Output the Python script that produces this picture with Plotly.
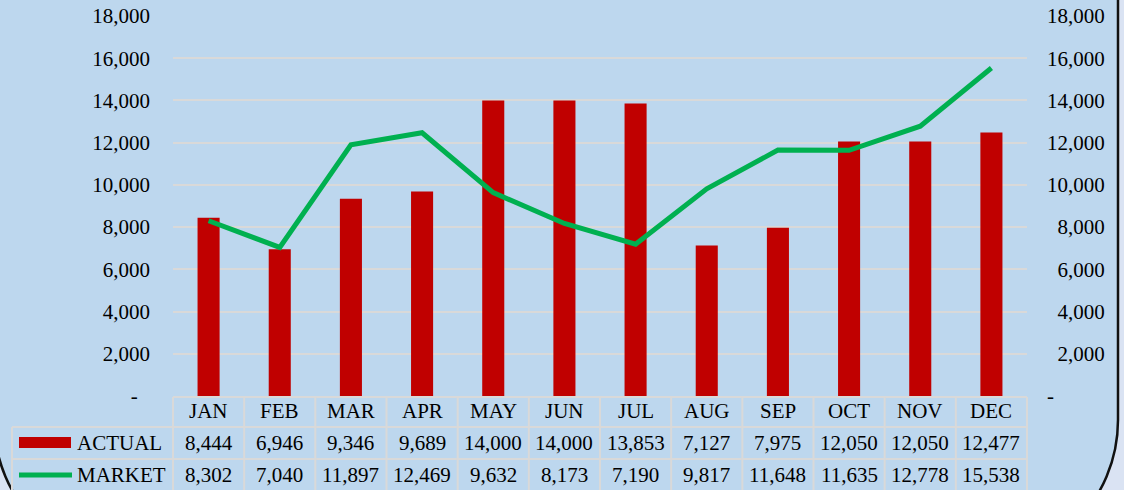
import plotly.graph_objects as go

# ---- data ----
months = ["JAN", "FEB", "MAR", "APR", "MAY", "JUN", "JUL", "AUG", "SEP", "OCT", "NOV", "DEC"]
actual = [8444, 6946, 9346, 9689, 14000, 14000, 13853, 7127, 7975, 12050, 12050, 12477]
market = [8302, 7040, 11897, 12469, 9632, 8173, 7190, 9817, 11648, 11635, 12778, 15538]
series_names = ["ACTUAL", "MARKET"]
y_tickvals = [0, 2000, 4000, 6000, 8000, 10000, 12000, 14000, 16000, 18000]
y_ticktext_left = ["-\u2007\u200a"] + [f"{v:,}" for v in y_tickvals[1:]]
y_ticktext_right = ["-"] + [(f"{v:,}" if v >= 10000 else "\u2007" + f"{v:,}") for v in y_tickvals[1:]]

# ---- geometry helpers (pixels -> paper) ----
W, H = 1124, 490
def px(x):
    return x / W
def py(y):
    return 1 - y / H

X0, X1 = 173, 1027          # plot area left/right in px
Y0, Y18 = 396, 16           # pixel of 0 and 18000
ncat = len(months)
colw = (X1 - X0) / ncat

FONT = "Liberation Serif, Times New Roman, serif"
RED = "#C00000"
GREEN = "#00B050"
GRID = "#D9D9D9"

fig = go.Figure()
fig.add_bar(x=months, y=actual, name=series_names[0], marker=dict(color=RED, line=dict(width=0)),
            yaxis="y")
fig.add_scatter(x=months, y=market, name=series_names[1], mode="lines",
                line=dict(color=GREEN, width=5), yaxis="y2")

shapes = []
# rounded background panel
L, R, T, B, r = -6, 1118, -20, 565, 145
k = 0.5523
cy = B - r
def P(x, y):
    return f"{px(x):.6f},{py(y):.6f}"
path = (f"M {P(L, T)} L {P(R, T)} L {P(R, cy)} "
        f"C {P(R, cy + k * r)} {P(R - r + k * r, B)} {P(R - r, B)} "
        f"L {P(L + r, B)} "
        f"C {P(L + r - k * r, B)} {P(L, cy + k * r)} {P(L, cy)} Z")
shapes.append(dict(type="path", xref="paper", yref="paper", path=path,
                   fillcolor="#BDD7EE", line=dict(color="#111111", width=2.5), layer="below"))

# data table lines
lw = 2
shapes.append(dict(type="line", xref="paper", yref="paper", x0=px(X0), x1=px(X1), y0=py(397), y1=py(397),
                   line=dict(color=GRID, width=lw), layer="above"))
for yy in (427, 459):
    shapes.append(dict(type="line", xref="paper", yref="paper", x0=px(12), x1=px(X1), y0=py(yy), y1=py(yy),
                       line=dict(color=GRID, width=lw), layer="above"))
for i in range(ncat + 1):
    xx = X0 + i * colw
    shapes.append(dict(type="line", xref="paper", yref="paper", x0=px(xx), x1=px(xx), y0=py(397), y1=py(495),
                       line=dict(color=GRID, width=lw), layer="above"))
shapes.append(dict(type="line", xref="paper", yref="paper", x0=px(12), x1=px(12), y0=py(427), y1=py(495),
                   line=dict(color=GRID, width=lw), layer="above"))

# legend keys
shapes.append(dict(type="rect", xref="paper", yref="paper", x0=px(19), x1=px(71), y0=py(448), y1=py(437),
                   fillcolor=RED, line=dict(width=0), layer="above"))
shapes.append(dict(type="line", xref="paper", yref="paper", x0=px(19), x1=px(72), y0=py(475), y1=py(475),
                   line=dict(color=GREEN, width=5), layer="above"))

annotations = []
tfont = dict(family=FONT, size=21, color="#000000")
row_y = [411, 443, 475]
for i, m in enumerate(months):
    annotations.append(dict(x=m, xref="x", y=py(row_y[0]), yref="paper", text=m, showarrow=False,
                            font=tfont, xanchor="center", yanchor="middle"))
    annotations.append(dict(x=m, xref="x", y=py(row_y[1]), yref="paper", text=f"{actual[i]:,}",
                            showarrow=False, font=tfont, xanchor="center", yanchor="middle"))
    annotations.append(dict(x=m, xref="x", y=py(row_y[2]), yref="paper", text=f"{market[i]:,}",
                            showarrow=False, font=tfont, xanchor="center", yanchor="middle"))
for j, nm in enumerate(series_names):
    annotations.append(dict(x=px(75), xref="paper", y=py(row_y[j + 1]), yref="paper", text=nm,
                            showarrow=False, font=tfont, xanchor="left", yanchor="middle"))

fig.update_layout(
    width=W, height=H, autosize=False,
    margin=dict(l=0, r=0, t=0, b=0, pad=0),
    paper_bgcolor="#DAE3F3",
    plot_bgcolor="rgba(0,0,0,0)",
    showlegend=False,
    bargap=0.69,
    font=tfont,
    xaxis=dict(domain=[px(X0), px(X1)], type="category", range=[-0.5, ncat - 0.5], automargin=False,
               showgrid=False, showticklabels=False, showline=False, zeroline=False, ticks=""),
    yaxis=dict(domain=[py(Y0), py(Y18)], range=[0, 18000], tickvals=y_tickvals, ticktext=y_ticktext_left,
               showgrid=True, gridcolor=GRID, gridwidth=2, zeroline=False, showline=False, ticks="",
               ticklabelstandoff=22, tickfont=tfont, automargin=False),
    yaxis2=dict(domain=[py(Y0), py(Y18)], overlaying="y", side="right", range=[0, 18000],
                tickvals=y_tickvals, ticktext=y_ticktext_right, showgrid=False, zeroline=False,
                showline=False, ticks="", ticklabelstandoff=19, tickfont=tfont, automargin=False),
    shapes=shapes,
    annotations=annotations,
)

fig.write_html("out.html", config={"displayModeBar": False},
               post_script="document.body.style.margin='0';document.body.style.overflow='hidden';")
